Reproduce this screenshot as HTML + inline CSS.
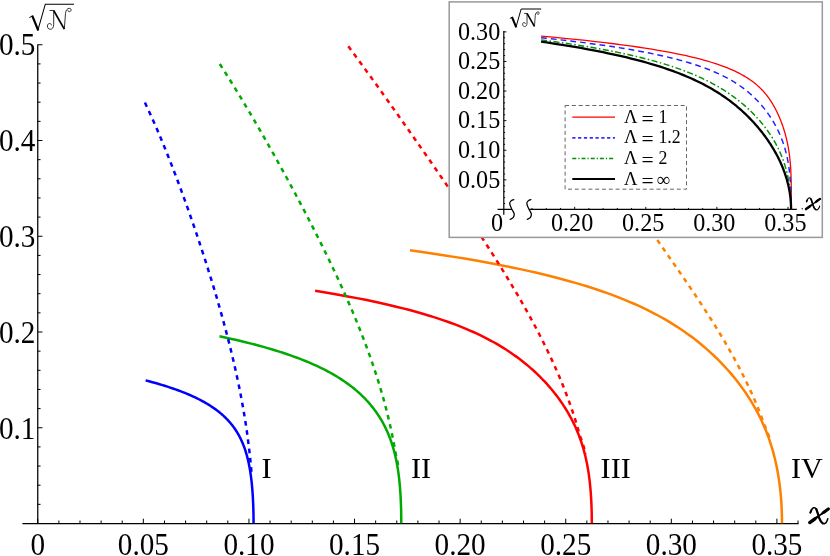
<!DOCTYPE html>
<html><head><meta charset="utf-8"><title>plot</title>
<style>html,body{margin:0;padding:0;background:#fff;width:830px;height:556px;overflow:hidden;font-family:"Liberation Serif",serif}</style>
</head><body>
<svg width="830" height="556" viewBox="0 0 830 556" style="position:absolute;left:0;top:0;display:block;will-change:transform">
<rect x="0" y="0" width="830" height="556" fill="#fff"/>
<g stroke="#000" stroke-width="1.25" fill="none" shape-rendering="auto">
<path d="M37.75,44.5 V523.5 M22.4,523.5 H798.6"/>
<path d="M37.75,504.35 h2.8 M37.75,485.20 h2.8 M37.75,466.05 h2.8 M37.75,446.90 h2.8 M37.75,427.75 h4.7 M37.75,408.60 h2.8 M37.75,389.45 h2.8 M37.75,370.30 h2.8 M37.75,351.15 h2.8 M37.75,332.00 h4.7 M37.75,312.85 h2.8 M37.75,293.70 h2.8 M37.75,274.55 h2.8 M37.75,255.40 h2.8 M37.75,236.25 h4.7 M37.75,217.10 h2.8 M37.75,197.95 h2.8 M37.75,178.80 h2.8 M37.75,159.65 h2.8 M37.75,140.50 h4.7 M37.75,121.35 h2.8 M37.75,102.20 h2.8 M37.75,83.05 h2.8 M37.75,63.90 h2.8 M37.75,44.75 h4.7 M37.75,523.5 v-4.8 M58.87,523.5 v-3.0 M79.99,523.5 v-3.0 M101.11,523.5 v-3.0 M122.23,523.5 v-3.0 M143.34,523.5 v-4.8 M164.46,523.5 v-3.0 M185.58,523.5 v-3.0 M206.70,523.5 v-3.0 M227.82,523.5 v-3.0 M248.94,523.5 v-4.8 M270.06,523.5 v-3.0 M291.18,523.5 v-3.0 M312.30,523.5 v-3.0 M333.42,523.5 v-3.0 M354.54,523.5 v-4.8 M375.65,523.5 v-3.0 M396.77,523.5 v-3.0 M417.89,523.5 v-3.0 M439.01,523.5 v-3.0 M460.13,523.5 v-4.8 M481.25,523.5 v-3.0 M502.37,523.5 v-3.0 M523.49,523.5 v-3.0 M544.61,523.5 v-3.0 M565.73,523.5 v-4.8 M586.84,523.5 v-3.0 M607.96,523.5 v-3.0 M629.08,523.5 v-3.0 M650.20,523.5 v-3.0 M671.32,523.5 v-4.8 M692.44,523.5 v-3.0 M713.56,523.5 v-3.0 M734.68,523.5 v-3.0 M755.80,523.5 v-3.0 M776.91,523.5 v-4.8 M798.03,523.5 v-3.0" stroke-width="1.0"/>
</g>
<path d="M145.60,380.37 L149.03,381.27 L152.36,382.17 L155.57,383.07 L158.69,383.97 L161.71,384.87 L164.63,385.77 L167.47,386.67 L170.21,387.57 L172.86,388.46 L175.43,389.36 L177.92,390.26 L180.33,391.16 L182.67,392.06 L184.93,392.96 L187.11,393.86 L189.23,394.76 L191.28,395.66 L193.27,396.56 L195.19,397.45 L197.05,398.35 L198.85,399.25 L200.60,400.15 L202.29,401.05 L203.92,401.95 L205.51,402.85 L207.04,403.75 L208.52,404.65 L209.96,405.54 L211.35,406.44 L212.70,407.34 L214.01,408.24 L215.27,409.14 L216.49,410.04 L217.68,410.94 L218.82,411.84 L219.94,412.74 L221.01,413.63 L222.05,414.53 L223.06,415.43 L224.04,416.33 L224.99,417.23 L225.90,418.13 L226.79,419.03 L227.65,419.93 L228.48,420.83 L229.29,421.72 L230.07,422.62 L230.83,423.52 L231.57,424.42 L232.28,425.32 L232.97,426.22 L233.63,427.12 L234.28,428.02 L234.91,428.92 L235.51,429.81 L236.10,430.71 L236.67,431.61 L237.23,432.51 L237.76,433.41 L238.28,434.31 L238.79,435.21 L239.28,436.11 L239.75,437.01 L240.21,437.90 L240.65,438.80 L241.08,439.70 L241.50,440.60 L241.91,441.50 L242.30,442.40 L242.68,443.30 L243.05,444.20 L243.41,445.10 L243.76,445.99 L244.09,446.89 L244.42,447.79 L244.74,448.69 L245.05,449.59 L245.34,450.49 L245.63,451.39 L245.91,452.29 L246.19,453.19 L246.45,454.08 L246.71,454.98 L246.95,455.88 L247.19,456.78 L247.43,457.68 L247.65,458.58 L247.87,459.48 L248.09,460.38 L248.29,461.28 L248.49,462.17 L248.69,463.07 L248.87,463.97 L249.06,464.87 L249.23,465.77 L249.40,466.67 L249.57,467.57 L249.73,468.47 L249.89,469.37 L250.04,470.26 L250.19,471.16 L250.33,472.06 L250.46,472.96 L250.60,473.86 L250.73,474.76 L250.85,475.66 L250.97,476.56 L251.09,477.46 L251.20,478.35 L251.31,479.25 L251.42,480.15 L251.52,481.05 L251.62,481.95 L251.71,482.85 L251.81,483.75 L251.89,484.65 L251.98,485.55 L252.06,486.45 L252.14,487.34 L252.22,488.24 L252.30,489.14 L252.37,490.04 L252.44,490.94 L252.50,491.84 L252.57,492.74 L252.63,493.64 L252.69,494.54 L252.75,495.43 L252.80,496.33 L252.85,497.23 L252.90,498.13 L252.95,499.03 L253.00,499.93 L253.04,500.83 L253.08,501.73 L253.12,502.63 L253.16,503.52 L253.19,504.42 L253.23,505.32 L253.26,506.22 L253.29,507.12 L253.32,508.02 L253.35,508.92 L253.37,509.82 L253.39,510.72 L253.42,511.61 L253.44,512.51 L253.45,513.41 L253.47,514.31 L253.49,515.21 L253.50,516.11 L253.51,517.01 L253.52,517.91 L253.53,518.81 L253.54,519.70 L253.54,520.60 L253.55,521.50 L253.55,522.40 L253.55,523.30" fill="none" stroke="#0000ff" stroke-width="2.5" stroke-linejoin="round"/>
<path d="M219.50,336.32 L225.04,337.49 L230.41,338.67 L235.60,339.84 L240.63,341.02 L245.49,342.20 L250.20,343.37 L254.77,344.55 L259.18,345.72 L263.46,346.90 L267.60,348.08 L271.61,349.25 L275.50,350.43 L279.26,351.60 L282.90,352.78 L286.44,353.96 L289.86,355.13 L293.18,356.31 L296.39,357.48 L299.50,358.66 L302.53,359.84 L305.45,361.01 L308.29,362.19 L311.05,363.36 L313.72,364.54 L316.30,365.72 L318.82,366.89 L321.25,368.07 L323.62,369.24 L325.91,370.42 L328.14,371.60 L330.30,372.77 L332.40,373.95 L334.44,375.12 L336.42,376.30 L338.34,377.48 L340.21,378.65 L342.02,379.83 L343.78,381.00 L345.49,382.18 L347.16,383.36 L348.77,384.53 L350.34,385.71 L351.87,386.88 L353.35,388.06 L354.80,389.24 L356.20,390.41 L357.56,391.59 L358.89,392.76 L360.18,393.94 L361.43,395.12 L362.65,396.29 L363.84,397.47 L365.00,398.64 L366.12,399.82 L367.21,401.00 L368.28,402.17 L369.31,403.35 L370.32,404.52 L371.30,405.70 L372.25,406.88 L373.18,408.05 L374.08,409.23 L374.96,410.40 L375.81,411.58 L376.64,412.76 L377.45,413.93 L378.24,415.11 L379.01,416.28 L379.75,417.46 L380.47,418.64 L381.18,419.81 L381.87,420.99 L382.53,422.16 L383.18,423.34 L383.81,424.52 L384.42,425.69 L385.02,426.87 L385.60,428.04 L386.16,429.22 L386.71,430.40 L387.24,431.57 L387.76,432.75 L388.26,433.92 L388.74,435.10 L389.22,436.28 L389.68,437.45 L390.12,438.63 L390.56,439.80 L390.97,440.98 L391.38,442.16 L391.78,443.33 L392.16,444.51 L392.53,445.68 L392.89,446.86 L393.24,448.04 L393.58,449.21 L393.90,450.39 L394.22,451.56 L394.52,452.74 L394.82,453.92 L395.11,455.09 L395.38,456.27 L395.65,457.44 L395.91,458.62 L396.16,459.80 L396.40,460.97 L396.63,462.15 L396.86,463.32 L397.08,464.50 L397.29,465.68 L397.49,466.85 L397.68,468.03 L397.87,469.20 L398.05,470.38 L398.22,471.56 L398.39,472.73 L398.55,473.91 L398.70,475.08 L398.85,476.26 L398.99,477.44 L399.13,478.61 L399.26,479.79 L399.38,480.96 L399.50,482.14 L399.62,483.32 L399.72,484.49 L399.83,485.67 L399.93,486.84 L400.02,488.02 L400.12,489.20 L400.20,490.37 L400.28,491.55 L400.36,492.72 L400.44,493.90 L400.51,495.08 L400.57,496.25 L400.64,497.43 L400.70,498.60 L400.75,499.78 L400.80,500.96 L400.85,502.13 L400.90,503.31 L400.94,504.48 L400.98,505.66 L401.02,506.84 L401.06,508.01 L401.09,509.19 L401.12,510.36 L401.14,511.54 L401.17,512.72 L401.19,513.89 L401.21,515.07 L401.22,516.24 L401.23,517.42 L401.25,518.60 L401.25,519.77 L401.26,520.95 L401.26,522.12 L401.27,523.30" fill="none" stroke="#00aa00" stroke-width="2.5" stroke-linejoin="round"/>
<path d="M315.10,290.82 L324.13,292.29 L332.80,293.75 L341.13,295.21 L349.14,296.67 L356.83,298.13 L364.23,299.60 L371.34,301.06 L378.18,302.52 L384.75,303.98 L391.08,305.45 L397.17,306.91 L403.02,308.37 L408.66,309.83 L414.09,311.29 L419.33,312.76 L424.37,314.22 L429.22,315.68 L433.91,317.14 L438.42,318.60 L442.78,320.07 L446.99,321.53 L451.05,322.99 L454.97,324.45 L458.76,325.92 L462.43,327.38 L465.97,328.84 L469.40,330.30 L472.72,331.76 L475.93,333.23 L479.05,334.69 L482.07,336.15 L484.99,337.61 L487.83,339.07 L490.59,340.54 L493.26,342.00 L495.86,343.46 L498.39,344.92 L500.84,346.38 L503.23,347.85 L505.56,349.31 L507.82,350.77 L510.02,352.23 L512.17,353.70 L514.26,355.16 L516.30,356.62 L518.29,358.08 L520.23,359.54 L522.13,361.01 L523.98,362.47 L525.79,363.93 L527.55,365.39 L529.28,366.85 L530.96,368.32 L532.61,369.78 L534.23,371.24 L535.80,372.70 L537.34,374.16 L538.85,375.63 L540.33,377.09 L541.78,378.55 L543.19,380.01 L544.57,381.48 L545.93,382.94 L547.26,384.40 L548.56,385.86 L549.83,387.32 L551.07,388.79 L552.29,390.25 L553.48,391.71 L554.65,393.17 L555.79,394.63 L556.91,396.10 L558.00,397.56 L559.07,399.02 L560.12,400.48 L561.14,401.94 L562.14,403.41 L563.12,404.87 L564.08,406.33 L565.01,407.79 L565.93,409.26 L566.82,410.72 L567.69,412.18 L568.54,413.64 L569.37,415.10 L570.18,416.57 L570.97,418.03 L571.74,419.49 L572.49,420.95 L573.22,422.41 L573.94,423.88 L574.63,425.34 L575.31,426.80 L575.96,428.26 L576.60,429.72 L577.22,431.19 L577.83,432.65 L578.41,434.11 L578.98,435.57 L579.54,437.04 L580.07,438.50 L580.59,439.96 L581.10,441.42 L581.58,442.88 L582.06,444.35 L582.52,445.81 L582.96,447.27 L583.39,448.73 L583.80,450.19 L584.20,451.66 L584.58,453.12 L584.96,454.58 L585.31,456.04 L585.66,457.51 L585.99,458.97 L586.31,460.43 L586.62,461.89 L586.92,463.35 L587.20,464.82 L587.47,466.28 L587.73,467.74 L587.99,469.20 L588.23,470.66 L588.46,472.13 L588.68,473.59 L588.89,475.05 L589.09,476.51 L589.28,477.97 L589.46,479.44 L589.64,480.90 L589.80,482.36 L589.96,483.82 L590.11,485.29 L590.25,486.75 L590.38,488.21 L590.51,489.67 L590.63,491.13 L590.74,492.60 L590.85,494.06 L590.95,495.52 L591.04,496.98 L591.13,498.44 L591.21,499.91 L591.29,501.37 L591.36,502.83 L591.42,504.29 L591.48,505.75 L591.53,507.22 L591.58,508.68 L591.63,510.14 L591.66,511.60 L591.70,513.07 L591.73,514.53 L591.75,515.99 L591.77,517.45 L591.79,518.91 L591.80,520.38 L591.81,521.84 L591.81,523.30" fill="none" stroke="#ff0000" stroke-width="2.5" stroke-linejoin="round"/>
<path d="M410.00,250.26 L422.13,251.98 L433.78,253.70 L444.98,255.42 L455.73,257.13 L466.07,258.85 L476.01,260.57 L485.55,262.28 L494.73,264.00 L503.56,265.72 L512.05,267.44 L520.21,269.15 L528.07,270.87 L535.62,272.59 L542.90,274.30 L549.90,276.02 L556.64,277.74 L563.14,279.46 L569.40,281.17 L575.43,282.89 L581.24,284.61 L586.85,286.32 L592.26,288.04 L597.48,289.76 L602.52,291.48 L607.38,293.19 L612.09,294.91 L616.63,296.63 L621.03,298.35 L625.28,300.06 L629.40,301.78 L633.38,303.50 L637.24,305.21 L640.98,306.93 L644.61,308.65 L648.13,310.37 L651.54,312.08 L654.85,313.80 L658.07,315.52 L661.20,317.23 L664.24,318.95 L667.20,320.67 L670.08,322.39 L672.88,324.10 L675.61,325.82 L678.27,327.54 L680.86,329.26 L683.39,330.97 L685.86,332.69 L688.26,334.41 L690.61,336.12 L692.91,337.84 L695.15,339.56 L697.34,341.28 L699.48,342.99 L701.58,344.71 L703.63,346.43 L705.63,348.14 L707.60,349.86 L709.52,351.58 L711.40,353.30 L713.24,355.01 L715.04,356.73 L716.81,358.45 L718.54,360.16 L720.24,361.88 L721.91,363.60 L723.54,365.32 L725.13,367.03 L726.70,368.75 L728.24,370.47 L729.74,372.19 L731.22,373.90 L732.66,375.62 L734.08,377.34 L735.47,379.05 L736.83,380.77 L738.17,382.49 L739.48,384.21 L740.76,385.92 L742.02,387.64 L743.25,389.36 L744.45,391.07 L745.64,392.79 L746.79,394.51 L747.92,396.23 L749.03,397.94 L750.12,399.66 L751.18,401.38 L752.22,403.10 L753.23,404.81 L754.22,406.53 L755.19,408.25 L756.14,409.96 L757.07,411.68 L757.97,413.40 L758.86,415.12 L759.72,416.83 L760.56,418.55 L761.38,420.27 L762.18,421.98 L762.96,423.70 L763.72,425.42 L764.46,427.14 L765.19,428.85 L765.89,430.57 L766.57,432.29 L767.24,434.01 L767.88,435.72 L768.51,437.44 L769.12,439.16 L769.71,440.87 L770.29,442.59 L770.84,444.31 L771.39,446.03 L771.91,447.74 L772.42,449.46 L772.91,451.18 L773.38,452.89 L773.84,454.61 L774.29,456.33 L774.72,458.05 L775.13,459.76 L775.53,461.48 L775.92,463.20 L776.29,464.91 L776.65,466.63 L776.99,468.35 L777.32,470.07 L777.64,471.78 L777.94,473.50 L778.24,475.22 L778.51,476.94 L778.78,478.65 L779.04,480.37 L779.28,482.09 L779.51,483.80 L779.73,485.52 L779.94,487.24 L780.14,488.96 L780.32,490.67 L780.50,492.39 L780.67,494.11 L780.82,495.82 L780.97,497.54 L781.10,499.26 L781.23,500.98 L781.34,502.69 L781.45,504.41 L781.54,506.13 L781.63,507.85 L781.71,509.56 L781.78,511.28 L781.83,513.00 L781.88,514.71 L781.92,516.43 L781.96,518.15 L781.98,519.87 L781.99,521.58 L782.00,523.30" fill="none" stroke="#ff8000" stroke-width="2.5" stroke-linejoin="round"/>
<path d="M144.93,102.57 L146.03,104.91 L147.12,107.25 L148.21,109.58 L149.28,111.92 L150.35,114.25 L151.40,116.59 L152.45,118.93 L153.49,121.26 L154.52,123.60 L155.54,125.93 L156.56,128.27 L157.56,130.61 L158.56,132.94 L159.55,135.28 L160.54,137.61 L161.51,139.95 L162.49,142.29 L163.45,144.62 L164.41,146.96 L165.36,149.29 L166.30,151.63 L167.24,153.97 L168.18,156.30 L169.10,158.64 L170.03,160.97 L170.94,163.31 L171.86,165.64 L172.76,167.98 L173.66,170.32 L174.56,172.65 L175.45,174.99 L176.34,177.32 L177.22,179.66 L178.10,182.00 L178.97,184.33 L179.84,186.67 L180.71,189.00 L181.57,191.34 L182.42,193.68 L183.27,196.01 L184.12,198.35 L184.97,200.68 L185.81,203.02 L186.64,205.36 L187.48,207.69 L188.30,210.03 L189.13,212.36 L189.95,214.70 L190.77,217.04 L191.58,219.37 L192.39,221.71 L193.20,224.04 L194.00,226.38 L194.80,228.72 L195.59,231.05 L196.39,233.39 L197.17,235.72 L197.96,238.06 L198.74,240.39 L199.52,242.73 L200.29,245.07 L201.06,247.40 L201.83,249.74 L202.59,252.07 L203.35,254.41 L204.11,256.75 L204.86,259.08 L205.61,261.42 L206.35,263.75 L207.09,266.09 L207.83,268.43 L208.56,270.76 L209.29,273.10 L210.02,275.43 L210.74,277.77 L211.46,280.11 L212.17,282.44 L212.88,284.78 L213.59,287.11 L214.29,289.45 L214.98,291.79 L215.68,294.12 L216.37,296.46 L217.05,298.79 L217.73,301.13 L218.40,303.47 L219.08,305.80 L219.74,308.14 L220.40,310.47 L221.06,312.81 L221.71,315.14 L222.36,317.48 L223.00,319.82 L223.64,322.15 L224.27,324.49 L224.90,326.82 L225.52,329.16 L226.14,331.50 L226.75,333.83 L227.36,336.17 L227.96,338.50 L228.56,340.84 L229.15,343.18 L229.74,345.51 L230.32,347.85 L230.89,350.18 L231.46,352.52 L232.02,354.86 L232.58,357.19 L233.13,359.53 L233.67,361.86 L234.21,364.20 L234.74,366.54 L235.27,368.87 L235.79,371.21 L236.31,373.54 L236.81,375.88 L237.31,378.22 L237.81,380.55 L238.30,382.89 L238.78,385.22 L239.25,387.56 L239.72,389.89 L240.18,392.23 L240.64,394.57 L241.08,396.90 L241.52,399.24 L241.96,401.57 L242.38,403.91 L242.80,406.25 L243.21,408.58 L243.62,410.92 L244.02,413.25 L244.41,415.59 L244.79,417.93 L245.16,420.26 L245.53,422.60 L245.89,424.93 L246.24,427.27 L246.58,429.61 L246.92,431.94 L247.25,434.28 L247.57,436.61 L247.88,438.95 L248.19,441.29 L248.48,443.62 L248.77,445.96 L249.05,448.29 L249.32,450.63 L249.59,452.97 L249.84,455.30 L250.09,457.64 L250.33,459.97 L250.56,462.31 L250.78,464.64 L251.00,466.98 L251.20,469.32 L251.40,471.65 L251.59,473.99" fill="none" stroke="#0000ff" stroke-width="2.5" stroke-dasharray="4.6 4.7" stroke-dashoffset="0"/>
<path d="M219.80,63.99 L221.43,66.52 L223.05,69.05 L224.66,71.59 L226.26,74.12 L227.86,76.65 L229.44,79.19 L231.02,81.72 L232.59,84.25 L234.16,86.79 L235.71,89.32 L237.26,91.86 L238.81,94.39 L240.34,96.92 L241.87,99.46 L243.39,101.99 L244.91,104.52 L246.42,107.06 L247.93,109.59 L249.43,112.12 L250.92,114.66 L252.41,117.19 L253.90,119.72 L255.38,122.26 L256.85,124.79 L258.32,127.32 L259.78,129.86 L261.24,132.39 L262.70,134.92 L264.15,137.46 L265.59,139.99 L267.03,142.52 L268.47,145.06 L269.90,147.59 L271.33,150.12 L272.76,152.66 L274.18,155.19 L275.59,157.73 L277.00,160.26 L278.41,162.79 L279.81,165.33 L281.21,167.86 L282.61,170.39 L284.00,172.93 L285.39,175.46 L286.77,177.99 L288.15,180.53 L289.52,183.06 L290.89,185.59 L292.26,188.13 L293.62,190.66 L294.98,193.19 L296.34,195.73 L297.69,198.26 L299.03,200.79 L300.37,203.33 L301.71,205.86 L303.04,208.39 L304.37,210.93 L305.69,213.46 L307.01,215.99 L308.32,218.53 L309.63,221.06 L310.94,223.60 L312.24,226.13 L313.53,228.66 L314.82,231.20 L316.10,233.73 L317.38,236.26 L318.66,238.80 L319.92,241.33 L321.19,243.86 L322.44,246.40 L323.69,248.93 L324.94,251.46 L326.18,254.00 L327.41,256.53 L328.64,259.06 L329.86,261.60 L331.08,264.13 L332.28,266.66 L333.49,269.20 L334.68,271.73 L335.87,274.26 L337.05,276.80 L338.23,279.33 L339.39,281.86 L340.55,284.40 L341.71,286.93 L342.85,289.47 L343.99,292.00 L345.12,294.53 L346.24,297.07 L347.36,299.60 L348.46,302.13 L349.56,304.67 L350.65,307.20 L351.73,309.73 L352.81,312.27 L353.87,314.80 L354.93,317.33 L355.97,319.87 L357.01,322.40 L358.04,324.93 L359.06,327.47 L360.07,330.00 L361.07,332.53 L362.06,335.07 L363.04,337.60 L364.01,340.13 L364.97,342.67 L365.92,345.20 L366.86,347.73 L367.79,350.27 L368.71,352.80 L369.62,355.34 L370.52,357.87 L371.41,360.40 L372.28,362.94 L373.15,365.47 L374.00,368.00 L374.85,370.54 L375.68,373.07 L376.50,375.60 L377.31,378.14 L378.10,380.67 L378.89,383.20 L379.66,385.74 L380.42,388.27 L381.17,390.80 L381.91,393.34 L382.63,395.87 L383.34,398.40 L384.04,400.94 L384.73,403.47 L385.40,406.00 L386.06,408.54 L386.71,411.07 L387.35,413.60 L387.97,416.14 L388.58,418.67 L389.17,421.21 L389.75,423.74 L390.32,426.27 L390.87,428.81 L391.41,431.34 L391.94,433.87 L392.45,436.41 L392.95,438.94 L393.44,441.47 L393.91,444.01 L394.37,446.54 L394.81,449.07 L395.24,451.61 L395.78,454.14 L396.38,456.67 L396.94,459.21 L397.46,461.74 L397.94,464.27 L398.38,466.81" fill="none" stroke="#00aa00" stroke-width="2.5" stroke-dasharray="4.6 4.7" stroke-dashoffset="0"/>
<path d="M348.26,46.27 L350.18,48.84 L352.08,51.41 L353.99,53.97 L355.88,56.54 L357.77,59.11 L359.66,61.67 L361.54,64.24 L363.41,66.81 L365.28,69.37 L367.15,71.94 L369.01,74.51 L370.87,77.07 L372.72,79.64 L374.57,82.21 L376.42,84.77 L378.26,87.34 L380.10,89.91 L381.94,92.47 L383.77,95.04 L385.60,97.61 L387.43,100.17 L389.25,102.74 L391.08,105.30 L392.90,107.87 L394.72,110.44 L396.53,113.00 L398.35,115.57 L400.16,118.14 L401.97,120.70 L403.78,123.27 L405.59,125.84 L407.39,128.40 L409.20,130.97 L411.00,133.54 L412.80,136.10 L414.59,138.67 L416.39,141.24 L418.18,143.80 L419.98,146.37 L421.77,148.94 L423.56,151.50 L425.34,154.07 L427.13,156.64 L428.91,159.20 L430.69,161.77 L432.47,164.34 L434.25,166.90 L436.02,169.47 L437.79,172.04 L439.56,174.60 L441.33,177.17 L443.09,179.74 L444.86,182.30 L446.62,184.87 L448.37,187.44 L450.13,190.00 L451.88,192.57 L453.62,195.14 L455.37,197.70 L457.11,200.27 L458.85,202.83 L460.58,205.40 L462.31,207.97 L464.03,210.53 L465.76,213.10 L467.47,215.67 L469.19,218.23 L470.90,220.80 L472.60,223.37 L474.30,225.93 L475.99,228.50 L477.68,231.07 L479.37,233.63 L481.04,236.20 L482.72,238.77 L484.38,241.33 L486.04,243.90 L487.70,246.47 L489.35,249.03 L490.99,251.60 L492.63,254.17 L494.25,256.73 L495.88,259.30 L497.49,261.87 L499.10,264.43 L500.70,267.00 L502.29,269.57 L503.87,272.13 L505.45,274.70 L507.01,277.27 L508.57,279.83 L510.12,282.40 L511.66,284.97 L513.20,287.53 L514.72,290.10 L516.23,292.67 L517.73,295.23 L519.23,297.80 L520.71,300.37 L522.18,302.93 L523.65,305.50 L525.10,308.06 L526.54,310.63 L527.97,313.20 L529.39,315.76 L530.80,318.33 L532.19,320.90 L533.58,323.46 L534.95,326.03 L536.31,328.60 L537.66,331.16 L538.99,333.73 L540.31,336.30 L541.62,338.86 L542.92,341.43 L544.20,344.00 L545.47,346.56 L546.72,349.13 L547.97,351.70 L549.19,354.26 L550.41,356.83 L551.61,359.40 L552.79,361.96 L553.96,364.53 L555.11,367.10 L556.25,369.66 L557.38,372.23 L558.49,374.80 L559.58,377.36 L560.66,379.93 L561.72,382.50 L562.76,385.06 L563.79,387.63 L564.81,390.20 L565.80,392.76 L566.78,395.33 L567.74,397.90 L568.69,400.46 L569.62,403.03 L570.53,405.59 L571.42,408.16 L572.30,410.73 L573.15,413.29 L573.99,415.86 L574.82,418.43 L575.62,420.99 L576.41,423.56 L577.17,426.13 L577.92,428.69 L578.65,431.26 L579.37,433.83 L580.20,436.39 L581.14,438.96 L582.03,441.53 L582.88,444.09 L583.67,446.66 L584.43,449.23 L585.13,451.79 L585.80,454.36" fill="none" stroke="#ff0000" stroke-width="2.5" stroke-dasharray="4.6 4.7" stroke-dashoffset="0"/>
<path d="M641.58,216.90 L642.52,218.31 L643.47,219.72 L644.42,221.13 L645.37,222.54 L646.33,223.95 L647.28,225.35 L648.24,226.76 L649.20,228.17 L650.17,229.58 L651.13,230.99 L652.10,232.40 L653.07,233.81 L654.03,235.22 L655.01,236.63 L655.98,238.04 L656.95,239.45 L657.93,240.86 L658.90,242.26 L659.88,243.67 L660.86,245.08 L661.83,246.49 L662.81,247.90 L663.79,249.31 L664.77,250.72 L665.75,252.13 L666.73,253.54 L667.71,254.95 L668.69,256.36 L669.67,257.77 L670.65,259.17 L671.62,260.58 L672.60,261.99 L673.58,263.40 L674.56,264.81 L675.54,266.22 L676.51,267.63 L677.49,269.04 L678.46,270.45 L679.43,271.86 L680.41,273.27 L681.38,274.68 L682.35,276.08 L683.31,277.49 L684.28,278.90 L685.25,280.31 L686.21,281.72 L687.17,283.13 L688.13,284.54 L689.09,285.95 L690.05,287.36 L691.00,288.77 L691.95,290.18 L692.90,291.58 L693.85,292.99 L694.80,294.40 L695.74,295.81 L696.68,297.22 L697.62,298.63 L698.55,300.04 L699.49,301.45 L700.42,302.86 L701.34,304.27 L702.27,305.68 L703.19,307.09 L704.11,308.49 L705.02,309.90 L705.94,311.31 L706.84,312.72 L707.75,314.13 L708.65,315.54 L709.55,316.95 L710.45,318.36 L711.34,319.77 L712.23,321.18 L713.11,322.59 L714.00,324.00 L714.87,325.40 L715.75,326.81 L716.62,328.22 L717.48,329.63 L718.34,331.04 L719.20,332.45 L720.06,333.86 L720.91,335.27 L721.75,336.68 L722.59,338.09 L723.43,339.50 L724.26,340.91 L725.09,342.31 L725.91,343.72 L726.73,345.13 L727.55,346.54 L728.36,347.95 L729.16,349.36 L729.96,350.77 L730.76,352.18 L731.55,353.59 L732.34,355.00 L733.12,356.41 L733.90,357.82 L734.67,359.22 L735.43,360.63 L736.19,362.04 L736.95,363.45 L737.70,364.86 L738.45,366.27 L739.19,367.68 L739.92,369.09 L740.65,370.50 L741.38,371.91 L742.10,373.32 L742.81,374.72 L743.52,376.13 L744.22,377.54 L744.92,378.95 L745.61,380.36 L746.30,381.77 L746.98,383.18 L747.65,384.59 L748.32,386.00 L748.99,387.41 L749.64,388.82 L750.29,390.23 L750.94,391.63 L751.58,393.04 L752.21,394.45 L752.84,395.86 L753.46,397.27 L754.08,398.68 L754.69,400.09 L755.29,401.50 L755.89,402.91 L756.48,404.32 L757.07,405.73 L757.65,407.14 L758.22,408.54 L758.79,409.95 L759.35,411.36 L759.90,412.77 L760.45,414.18 L760.99,415.59 L761.52,417.00 L762.05,418.41 L762.57,419.82 L763.09,421.23 L763.60,422.64 L764.10,424.05 L764.64,425.45 L765.25,426.86 L765.84,428.27 L766.43,429.68 L767.00,431.09 L767.55,432.50 L768.10,433.91 L768.63,435.32 L769.15,436.73 L769.66,438.14 L770.16,439.55 L770.64,440.95" fill="none" stroke="#ff8000" stroke-width="2.5" stroke-dasharray="4.6 4.7" stroke-dashoffset="0"/>
<g font-family="Liberation Serif, serif" font-size="29.2px" fill="#000">
<text transform="translate(37.75,554.50) scale(1,1.08)" text-anchor="middle">0</text>
<text transform="translate(143.35,554.50) scale(1,1.08)" text-anchor="middle">0.05</text>
<text transform="translate(248.94,554.50) scale(1,1.08)" text-anchor="middle">0.10</text>
<text transform="translate(354.54,554.50) scale(1,1.08)" text-anchor="middle">0.15</text>
<text transform="translate(460.13,554.50) scale(1,1.08)" text-anchor="middle">0.20</text>
<text transform="translate(565.73,554.50) scale(1,1.08)" text-anchor="middle">0.25</text>
<text transform="translate(671.32,554.50) scale(1,1.08)" text-anchor="middle">0.30</text>
<text transform="translate(776.92,554.50) scale(1,1.08)" text-anchor="middle">0.35</text>
<text transform="translate(35.40,438.65) scale(1,1.08)" text-anchor="end">0.1</text>
<text transform="translate(35.40,342.72) scale(1,1.08)" text-anchor="end">0.2</text>
<text transform="translate(35.40,246.80) scale(1,1.08)" text-anchor="end">0.3</text>
<text transform="translate(35.40,150.87) scale(1,1.08)" text-anchor="end">0.4</text>
<text transform="translate(35.40,54.95) scale(1,1.08)" text-anchor="end">0.5</text>
<text x="261.6" y="477.6" font-size="30.2px">I</text>
<text x="410.9" y="477.6" font-size="30.2px">II</text>
<text x="600.6" y="477.6" font-size="30.2px">III</text>
<text x="790.9" y="477.6" font-size="30.2px">IV</text>
</g>
<g fill="none" stroke="#000" transform="translate(38.1,29.9)"><path d="M-8.8,-12.2 L-5.6,-14.1" stroke-width="1"/><path d="M-5.9,-14.3 L0.2,0.6" stroke-width="2.2"/><path d="M-0.2,0.3 L7.2,-25.7 H35.9" stroke-width="1.05"/><path d="M11.4,-19.4 H15.6 V-5.5 C15.6,-2.5 14.2,-0.6 12.2,-0.6 C10.4,-0.6 9.2,-2.2 9.3,-4 C9.4,-5.6 10.5,-6.5 11.6,-6.4 C12.8,-6.3 13.4,-5.4 13.3,-4.6" stroke-width="0.8"/><path d="M15.6,-19.4 L26.2,-0.8" stroke-width="1.7"/><path d="M26.2,-0.8 L27.4,-16.5 C27.6,-19.5 29.2,-21.6 31.2,-21.6 C32.6,-21.6 33.2,-20.6 33,-19.6 C32.8,-18.6 31.8,-18 30.8,-18.3 C30,-18.6 29.7,-19.3 29.9,-19.9" stroke-width="0.8"/></g>
<g transform="translate(808.7,523.4) scale(1.0)"><g fill="none" stroke="#000" stroke-linecap="round"><path d="M1.0,-0.8 L19.9,-14.6" stroke-width="1.7"/><path d="M1.0,-0.8 L6.2,-4.6" stroke-width="3.3"/><path d="M4,-3 L7.8,-5.8" stroke-width="2.5"/><path d="M15.2,-11.2 L19.6,-14.4" stroke-width="3.1"/><path d="M13.6,-10 L17,-12.5" stroke-width="2.4"/><path d="M1.65,-10.8 L2.6,-13" stroke-width="2.0"/><path d="M1.65,-10.8 C2.4,-13.2 3.4,-15 4.8,-15.6 C6.3,-16.2 7.4,-15 8.2,-12.8 C9,-10.4 9.8,-7.4 10.8,-4.7 C11.6,-2.6 12.6,-0.9 14,-0.1 C15.4,0.7 16.9,0.2 18,-1.8 C18.5,-2.7 18.9,-3.7 19.1,-4.7" stroke-width="1.5"/><path d="M7.6,-14.2 C9,-10.4 9.8,-7.4 10.8,-4.7 C11.6,-2.6 12.6,-0.9 14,-0.1" stroke-width="2.2"/></g></g>
<rect x="449.2" y="1.9" width="373.09999999999997" height="235.5" fill="#fff" stroke="#999" stroke-width="1.5"/>
<g stroke="#000" stroke-width="1.2" fill="none">
<path d="M503.8,31.0 V214.8 M497.6,209.45 H512.0 M529.1,209.45 H796.8"/>
<path d="M503.8,203.53 h1.3 M503.8,197.61 h1.3 M503.8,191.69 h1.3 M503.8,185.77 h1.3 M503.8,179.85 h2.6 M503.8,173.93 h1.3 M503.8,168.01 h1.3 M503.8,162.09 h1.3 M503.8,156.17 h1.3 M503.8,150.25 h2.6 M503.8,144.33 h1.3 M503.8,138.41 h1.3 M503.8,132.49 h1.3 M503.8,126.57 h1.3 M503.8,120.65 h2.6 M503.8,114.73 h1.3 M503.8,108.81 h1.3 M503.8,102.89 h1.3 M503.8,96.97 h1.3 M503.8,91.05 h2.6 M503.8,85.13 h1.3 M503.8,79.21 h1.3 M503.8,73.29 h1.3 M503.8,67.37 h1.3 M503.8,61.45 h2.6 M503.8,55.53 h1.3 M503.8,49.61 h1.3 M503.8,43.69 h1.3 M503.8,37.77 h1.3 M503.8,31.85 h2.6 M532.04,209.45 v-1.5 M546.26,209.45 v-1.5 M560.48,209.45 v-1.5 M574.70,209.45 v-2.6 M588.92,209.45 v-1.5 M603.14,209.45 v-1.5 M617.36,209.45 v-1.5 M631.58,209.45 v-1.5 M645.80,209.45 v-2.6 M660.02,209.45 v-1.5 M674.24,209.45 v-1.5 M688.46,209.45 v-1.5 M702.68,209.45 v-1.5 M716.90,209.45 v-2.6 M731.12,209.45 v-1.5 M745.34,209.45 v-1.5 M759.56,209.45 v-1.5 M773.78,209.45 v-1.5 M788.00,209.45 v-2.6 M802.22,209.45 v-1.5" stroke-width="0.95"/>
<path d="M1.8,-9.9 C-0.5,-9.5 -2.6,-7.5 -2.25,-5.5 C-1.9,-3.5 -0.8,-1.8 0,0 C0.9,1.8 2.4,3.2 2.25,5 C2.1,7.5 0.3,9.2 -1.8,9.85" transform="translate(512.0,209.45)" stroke-width="1.3" stroke-linecap="round"/>
<path d="M1.8,-9.9 C-0.5,-9.5 -2.6,-7.5 -2.25,-5.5 C-1.9,-3.5 -0.8,-1.8 0,0 C0.9,1.8 2.4,3.2 2.25,5 C2.1,7.5 0.3,9.2 -1.8,9.85" transform="translate(529.1,209.45)" stroke-width="1.3" stroke-linecap="round"/>
</g>
<path d="M541.10,36.10 L553.08,37.19 L564.47,38.28 L575.32,39.37 L585.63,40.46 L595.44,41.55 L604.76,42.64 L613.62,43.73 L622.05,44.82 L630.05,45.91 L637.65,47.00 L644.87,48.09 L651.72,49.18 L658.23,50.27 L664.41,51.35 L670.27,52.44 L675.84,53.53 L681.12,54.62 L686.13,55.71 L690.89,56.80 L695.40,57.89 L699.68,58.98 L703.74,60.07 L707.59,61.16 L711.24,62.25 L714.71,63.34 L717.99,64.43 L721.11,65.52 L724.08,66.60 L726.89,67.69 L729.56,68.78 L732.09,69.87 L734.50,70.96 L736.78,72.05 L738.96,73.14 L741.02,74.23 L742.99,75.32 L744.86,76.41 L746.64,77.50 L748.34,78.59 L749.95,79.68 L751.49,80.76 L752.96,81.85 L754.37,82.94 L755.71,84.03 L756.99,85.12 L758.22,86.21 L759.39,87.30 L760.52,88.39 L761.60,89.48 L762.63,90.57 L763.63,91.66 L764.58,92.75 L765.50,93.84 L766.39,94.93 L767.24,96.01 L768.06,97.10 L768.86,98.19 L769.62,99.28 L770.36,100.37 L771.08,101.46 L771.78,102.55 L772.45,103.64 L773.10,104.73 L773.73,105.82 L774.34,106.91 L774.94,108.00 L775.52,109.09 L776.08,110.18 L776.63,111.26 L777.16,112.35 L777.68,113.44 L778.18,114.53 L778.67,115.62 L779.15,116.71 L779.61,117.80 L780.06,118.89 L780.50,119.98 L780.93,121.07 L781.35,122.16 L781.76,123.25 L782.15,124.34 L782.54,125.43 L782.91,126.51 L783.28,127.60 L783.63,128.69 L783.97,129.78 L784.31,130.87 L784.63,131.96 L784.95,133.05 L785.25,134.14 L785.55,135.23 L785.84,136.32 L786.11,137.41 L786.38,138.50 L786.64,139.59 L786.89,140.68 L787.13,141.76 L787.37,142.85 L787.59,143.94 L787.81,145.03 L788.02,146.12 L788.22,147.21 L788.41,148.30 L788.59,149.39 L788.77,150.48 L788.94,151.57 L789.10,152.66 L789.25,153.75 L789.40,154.84 L789.54,155.93 L789.67,157.01 L789.79,158.10 L789.91,159.19 L790.02,160.28 L790.13,161.37 L790.23,162.46 L790.32,163.55 L790.41,164.64 L790.49,165.73 L790.57,166.82 L790.64,167.91 L790.71,169.00 L790.77,170.09 L790.83,171.18 L790.88,172.26 L790.93,173.35 L790.97,174.44 L791.01,175.53 L791.05,176.62 L791.08,177.71 L791.11,178.80 L791.14,179.89 L791.16,180.98 L791.19,182.07 L791.21,183.16 L791.22,184.25 L791.24,185.34 L791.25,186.43 L791.26,187.51 L791.27,188.60 L791.28,189.69 L791.28,190.78 L791.29,191.87 L791.29,192.96 L791.30,194.05 L791.30,195.14 L791.30,196.23 L791.30,197.32 L791.30,198.41 L791.30,199.50 L791.30,200.59 L791.30,201.68 L791.30,202.76 L791.30,203.85 L791.30,204.94 L791.30,206.03 L791.30,207.12 L791.30,208.21 L791.30,209.30" fill="none" stroke="#ff0000" stroke-width="1.3"/>
<path d="M541.10,37.69 L551.21,38.77 L560.87,39.85 L570.09,40.93 L578.90,42.00 L587.32,43.08 L595.36,44.16 L603.04,45.24 L610.37,46.32 L617.37,47.40 L624.06,48.48 L630.45,49.56 L636.55,50.64 L642.38,51.72 L647.94,52.80 L653.26,53.88 L658.34,54.96 L663.20,56.04 L667.84,57.11 L672.27,58.19 L676.51,59.27 L680.57,60.35 L684.45,61.43 L688.16,62.51 L691.71,63.59 L695.11,64.67 L698.36,65.75 L701.48,66.83 L704.47,67.91 L707.33,68.99 L710.08,70.07 L712.71,71.15 L715.24,72.23 L717.67,73.30 L720.01,74.38 L722.25,75.46 L724.41,76.54 L726.48,77.62 L728.48,78.70 L730.41,79.78 L732.26,80.86 L734.05,81.94 L735.78,83.02 L737.44,84.10 L739.06,85.18 L740.61,86.26 L742.12,87.34 L743.58,88.42 L744.99,89.49 L746.36,90.57 L747.68,91.65 L748.97,92.73 L750.22,93.81 L751.43,94.89 L752.61,95.97 L753.75,97.05 L754.87,98.13 L755.95,99.21 L757.01,100.29 L758.03,101.37 L759.03,102.45 L760.01,103.53 L760.96,104.61 L761.89,105.68 L762.79,106.76 L763.67,107.84 L764.53,108.92 L765.37,110.00 L766.19,111.08 L766.99,112.16 L767.78,113.24 L768.54,114.32 L769.28,115.40 L770.01,116.48 L770.72,117.56 L771.41,118.64 L772.09,119.72 L772.75,120.80 L773.40,121.87 L774.03,122.95 L774.64,124.03 L775.24,125.11 L775.83,126.19 L776.40,127.27 L776.95,128.35 L777.49,129.43 L778.02,130.51 L778.53,131.59 L779.03,132.67 L779.52,133.75 L779.99,134.83 L780.45,135.91 L780.90,136.99 L781.34,138.06 L781.76,139.14 L782.17,140.22 L782.57,141.30 L782.95,142.38 L783.32,143.46 L783.69,144.54 L784.04,145.62 L784.38,146.70 L784.70,147.78 L785.02,148.86 L785.32,149.94 L785.62,151.02 L785.90,152.10 L786.18,153.18 L786.44,154.25 L786.69,155.33 L786.94,156.41 L787.17,157.49 L787.40,158.57 L787.61,159.65 L787.82,160.73 L788.02,161.81 L788.21,162.89 L788.39,163.97 L788.56,165.05 L788.72,166.13 L788.88,167.21 L789.03,168.29 L789.17,169.36 L789.31,170.44 L789.44,171.52 L789.56,172.60 L789.68,173.68 L789.79,174.76 L789.89,175.84 L789.99,176.92 L790.08,178.00 L790.17,179.08 L790.25,180.16 L790.33,181.24 L790.40,182.32 L790.47,183.40 L790.53,184.48 L790.59,185.55 L790.65,186.63 L790.70,187.71 L790.75,188.79 L790.79,189.87 L790.83,190.95 L790.87,192.03 L790.91,193.11 L790.94,194.19 L790.97,195.27 L790.99,196.35 L791.02,197.43 L791.04,198.51 L791.06,199.59 L791.08,200.67 L791.09,201.74 L791.10,202.82 L791.11,203.90 L791.12,204.98 L791.13,206.06 L791.13,207.14 L791.14,208.22 L791.14,209.30" fill="none" stroke="#2020ff" stroke-width="1.45" stroke-dasharray="5.8 4"/>
<path d="M541.10,39.85 L549.08,40.91 L556.75,41.98 L564.13,43.04 L571.22,44.11 L578.04,45.17 L584.61,46.24 L590.92,47.31 L597.00,48.37 L602.85,49.44 L608.48,50.50 L613.89,51.57 L619.11,52.63 L624.14,53.70 L628.98,54.77 L633.64,55.83 L638.14,56.90 L642.47,57.96 L646.65,59.03 L650.68,60.09 L654.57,61.16 L658.33,62.23 L661.95,63.29 L665.46,64.36 L668.84,65.42 L672.11,66.49 L675.27,67.55 L678.33,68.62 L681.29,69.69 L684.15,70.75 L686.93,71.82 L689.62,72.88 L692.22,73.95 L694.75,75.01 L697.20,76.08 L699.58,77.15 L701.88,78.21 L704.13,79.28 L706.31,80.34 L708.43,81.41 L710.49,82.48 L712.49,83.54 L714.44,84.61 L716.34,85.67 L718.20,86.74 L720.00,87.80 L721.76,88.87 L723.48,89.94 L725.15,91.00 L726.79,92.07 L728.38,93.13 L729.94,94.20 L731.47,95.26 L732.96,96.33 L734.41,97.40 L735.84,98.46 L737.23,99.53 L738.59,100.59 L739.93,101.66 L741.23,102.72 L742.51,103.79 L743.77,104.86 L744.99,105.92 L746.20,106.99 L747.38,108.05 L748.53,109.12 L749.66,110.18 L750.77,111.25 L751.86,112.32 L752.93,113.38 L753.97,114.45 L755.00,115.51 L756.00,116.58 L756.99,117.65 L757.95,118.71 L758.90,119.78 L759.83,120.84 L760.74,121.91 L761.63,122.97 L762.50,124.04 L763.36,125.11 L764.20,126.17 L765.02,127.24 L765.83,128.30 L766.62,129.37 L767.40,130.43 L768.15,131.50 L768.90,132.57 L769.62,133.63 L770.33,134.70 L771.03,135.76 L771.71,136.83 L772.37,137.89 L773.03,138.96 L773.66,140.03 L774.28,141.09 L774.89,142.16 L775.49,143.22 L776.06,144.29 L776.63,145.35 L777.18,146.42 L777.72,147.49 L778.25,148.55 L778.76,149.62 L779.26,150.68 L779.75,151.75 L780.22,152.82 L780.68,153.88 L781.13,154.95 L781.57,156.01 L781.99,157.08 L782.41,158.14 L782.81,159.21 L783.20,160.28 L783.58,161.34 L783.94,162.41 L784.30,163.47 L784.65,164.54 L784.98,165.60 L785.30,166.67 L785.62,167.74 L785.92,168.80 L786.21,169.87 L786.50,170.93 L786.77,172.00 L787.03,173.06 L787.29,174.13 L787.53,175.20 L787.77,176.26 L788.00,177.33 L788.21,178.39 L788.42,179.46 L788.62,180.52 L788.81,181.59 L789.00,182.66 L789.17,183.72 L789.34,184.79 L789.49,185.85 L789.65,186.92 L789.79,187.98 L789.92,189.05 L790.05,190.12 L790.17,191.18 L790.28,192.25 L790.39,193.31 L790.49,194.38 L790.58,195.45 L790.66,196.51 L790.74,197.58 L790.81,198.64 L790.87,199.71 L790.93,200.77 L790.98,201.84 L791.02,202.91 L791.06,203.97 L791.09,205.04 L791.11,206.10 L791.13,207.17 L791.14,208.23 L791.14,209.30" fill="none" stroke="#009000" stroke-width="1.45" stroke-dasharray="6 2.5 1.5 2.5"/>
<path d="M541.10,41.66 L548.30,42.71 L555.26,43.77 L561.98,44.82 L568.47,45.88 L574.73,46.93 L580.79,47.99 L586.63,49.04 L592.28,50.09 L597.74,51.15 L603.01,52.20 L608.11,53.26 L613.04,54.31 L617.80,55.37 L622.41,56.42 L626.86,57.48 L631.16,58.53 L635.33,59.58 L639.36,60.64 L643.26,61.69 L647.04,62.75 L650.69,63.80 L654.23,64.86 L657.66,65.91 L660.98,66.96 L664.20,68.02 L667.32,69.07 L670.34,70.13 L673.27,71.18 L676.12,72.24 L678.88,73.29 L681.56,74.34 L684.16,75.40 L686.69,76.45 L689.14,77.51 L691.53,78.56 L693.85,79.62 L696.11,80.67 L698.30,81.73 L700.44,82.78 L702.52,83.83 L704.55,84.89 L706.52,85.94 L708.45,87.00 L710.32,88.05 L712.15,89.11 L713.94,90.16 L715.68,91.21 L717.38,92.27 L719.04,93.32 L720.67,94.38 L722.25,95.43 L723.80,96.49 L725.32,97.54 L726.80,98.59 L728.26,99.65 L729.68,100.70 L731.07,101.76 L732.44,102.81 L733.77,103.87 L735.08,104.92 L736.37,105.97 L737.63,107.03 L738.86,108.08 L740.08,109.14 L741.27,110.19 L742.44,111.25 L743.58,112.30 L744.71,113.36 L745.82,114.41 L746.90,115.46 L747.97,116.52 L749.02,117.57 L750.05,118.63 L751.07,119.68 L752.06,120.74 L753.04,121.79 L754.01,122.84 L754.96,123.90 L755.89,124.95 L756.81,126.01 L757.71,127.06 L758.59,128.12 L759.47,129.17 L760.33,130.22 L761.17,131.28 L762.00,132.33 L762.82,133.39 L763.62,134.44 L764.41,135.50 L765.19,136.55 L765.95,137.60 L766.70,138.66 L767.44,139.71 L768.17,140.77 L768.88,141.82 L769.58,142.88 L770.27,143.93 L770.95,144.99 L771.61,146.04 L772.27,147.09 L772.91,148.15 L773.54,149.20 L774.15,150.26 L774.76,151.31 L775.35,152.37 L775.94,153.42 L776.51,154.47 L777.07,155.53 L777.62,156.58 L778.16,157.64 L778.68,158.69 L779.20,159.75 L779.70,160.80 L780.19,161.85 L780.67,162.91 L781.14,163.96 L781.60,165.02 L782.05,166.07 L782.49,167.13 L782.91,168.18 L783.33,169.24 L783.73,170.29 L784.13,171.34 L784.51,172.40 L784.88,173.45 L785.24,174.51 L785.59,175.56 L785.93,176.62 L786.25,177.67 L786.57,178.72 L786.88,179.78 L787.17,180.83 L787.45,181.89 L787.73,182.94 L787.99,184.00 L788.24,185.05 L788.48,186.10 L788.71,187.16 L788.93,188.21 L789.14,189.27 L789.34,190.32 L789.53,191.38 L789.70,192.43 L789.87,193.48 L790.02,194.54 L790.17,195.59 L790.30,196.65 L790.42,197.70 L790.54,198.76 L790.64,199.81 L790.73,200.87 L790.81,201.92 L790.88,202.97 L790.94,204.03 L790.98,205.08 L791.02,206.14 L791.05,207.19 L791.06,208.25 L791.07,209.30" fill="none" stroke="#000" stroke-width="2.3"/>
<rect x="565.1" y="105.5" width="121.39999999999998" height="83.69999999999999" fill="#fff" stroke="#666" stroke-width="1.0" stroke-dasharray="4 2.8"/>
<path d="M572.3,117.1 H615.0" fill="none" stroke="#ff0000" stroke-width="1.3"/>
<path d="M572.3,137.9 H615.0" fill="none" stroke="#3030ff" stroke-width="1.6" stroke-dasharray="3.2 2.6"/>
<path d="M572.3,158.6 H615.0" fill="none" stroke="#009000" stroke-width="1.5" stroke-dasharray="4 2 1.2 2"/>
<path d="M572.3,179.1 H615.0" fill="none" stroke="#000" stroke-width="2.0"/>
<g font-family="Liberation Serif, serif" font-size="17.8px" fill="#000">
<text x="624.0" y="122.60" font-size="18.6px">Λ</text>
<text x="641.5" y="125.50" font-size="21.5px">=</text>
<text transform="translate(658.40,122.60) scale(1,1.08)" text-anchor="start">1</text>
<text x="624.0" y="143.40" font-size="18.6px">Λ</text>
<text x="641.5" y="146.30" font-size="21.5px">=</text>
<text transform="translate(658.40,143.40) scale(1,1.08)" text-anchor="start">1.2</text>
<text x="624.0" y="164.10" font-size="18.6px">Λ</text>
<text x="641.5" y="167.00" font-size="21.5px">=</text>
<text transform="translate(658.40,164.10) scale(1,1.08)" text-anchor="start">2</text>
<text x="624.0" y="184.60" font-size="18.6px">Λ</text>
<text x="641.5" y="187.50" font-size="21.5px">=</text>
<text x="656.5" y="185.60" font-size="19.3px">∞</text>
</g>
<g font-family="Liberation Serif, serif" font-size="24.2px" fill="#000">
<text transform="translate(572.10,231.10) scale(1,1.08)" text-anchor="middle">0.20</text>
<text transform="translate(643.20,231.10) scale(1,1.08)" text-anchor="middle">0.25</text>
<text transform="translate(714.30,231.10) scale(1,1.08)" text-anchor="middle">0.30</text>
<text transform="translate(785.40,231.10) scale(1,1.08)" text-anchor="middle">0.35</text>
<text transform="translate(497.10,231.40) scale(1,1.08)" text-anchor="middle">0</text>
<text transform="translate(500.30,187.50) scale(1,1.08)" text-anchor="end">0.05</text>
<text transform="translate(500.30,157.90) scale(1,1.08)" text-anchor="end">0.10</text>
<text transform="translate(500.30,128.30) scale(1,1.08)" text-anchor="end">0.15</text>
<text transform="translate(500.30,98.70) scale(1,1.08)" text-anchor="end">0.20</text>
<text transform="translate(500.30,69.10) scale(1,1.08)" text-anchor="end">0.25</text>
<text transform="translate(500.30,39.50) scale(1,1.08)" text-anchor="end">0.30</text>
</g>
<g fill="none" stroke="#000" transform="translate(516.1,27.0) scale(0.7)"><path d="M-8.8,-12.2 L-5.6,-14.1" stroke-width="1.35"/><path d="M-5.9,-14.3 L0.2,0.6" stroke-width="2.97"/><path d="M-0.2,0.3 L7.2,-25.7 H35.9" stroke-width="1.42"/><path d="M11.4,-19.4 H15.6 V-5.5 C15.6,-2.5 14.2,-0.6 12.2,-0.6 C10.4,-0.6 9.2,-2.2 9.3,-4 C9.4,-5.6 10.5,-6.5 11.6,-6.4 C12.8,-6.3 13.4,-5.4 13.3,-4.6" stroke-width="1.08"/><path d="M15.6,-19.4 L26.2,-0.8" stroke-width="2.29"/><path d="M26.2,-0.8 L27.4,-16.5 C27.6,-19.5 29.2,-21.6 31.2,-21.6 C32.6,-21.6 33.2,-20.6 33,-19.6 C32.8,-18.6 31.8,-18 30.8,-18.3 C30,-18.6 29.7,-19.3 29.9,-19.9" stroke-width="1.08"/></g>
<g transform="translate(805.3,209.7) scale(0.75)"><g fill="none" stroke="#000" stroke-linecap="round"><path d="M1.0,-0.8 L19.9,-14.6" stroke-width="1.7"/><path d="M1.0,-0.8 L6.2,-4.6" stroke-width="3.3"/><path d="M4,-3 L7.8,-5.8" stroke-width="2.5"/><path d="M15.2,-11.2 L19.6,-14.4" stroke-width="3.1"/><path d="M13.6,-10 L17,-12.5" stroke-width="2.4"/><path d="M1.65,-10.8 L2.6,-13" stroke-width="2.0"/><path d="M1.65,-10.8 C2.4,-13.2 3.4,-15 4.8,-15.6 C6.3,-16.2 7.4,-15 8.2,-12.8 C9,-10.4 9.8,-7.4 10.8,-4.7 C11.6,-2.6 12.6,-0.9 14,-0.1 C15.4,0.7 16.9,0.2 18,-1.8 C18.5,-2.7 18.9,-3.7 19.1,-4.7" stroke-width="1.5"/><path d="M7.6,-14.2 C9,-10.4 9.8,-7.4 10.8,-4.7 C11.6,-2.6 12.6,-0.9 14,-0.1" stroke-width="2.2"/></g></g>
</svg>
</body></html>
